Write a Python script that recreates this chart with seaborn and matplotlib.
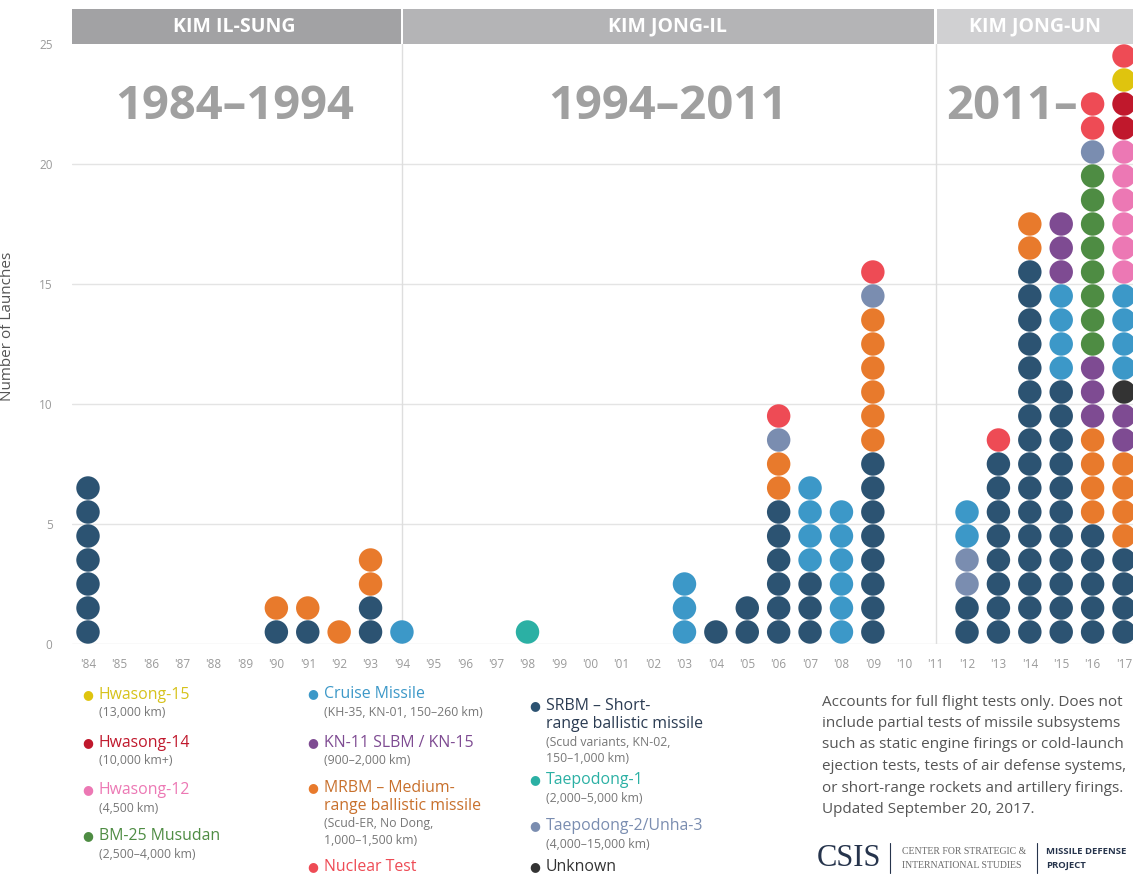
import matplotlib
matplotlib.use("Agg")
import matplotlib.pyplot as plt
import seaborn as sns
import pandas as pd
from matplotlib.lines import Line2D
from matplotlib.patches import Rectangle

# ── Data: launches per year, stacked bottom → top as (type, count) runs ──────
years = list(range(1984, 2018))
tick_labels = ["'" + str(y)[2:] for y in years]

stacks_1984_1994 = {
    1984: [("SRBM", 7)],
    1990: [("SRBM", 1), ("MRBM", 1)],
    1991: [("SRBM", 1), ("MRBM", 1)],
    1992: [("MRBM", 1)],
    1993: [("SRBM", 2), ("MRBM", 2)],
    1994: [("Cruise", 1)],
}
stacks_1994_2011 = {
    1998: [("TD1", 1)],
    2003: [("Cruise", 3)],
    2004: [("SRBM", 1)],
    2005: [("SRBM", 2)],
    2006: [("SRBM", 6), ("MRBM", 2), ("TD2", 1), ("Nuclear", 1)],
    2007: [("SRBM", 3), ("Cruise", 4)],
    2008: [("Cruise", 6)],
    2009: [("SRBM", 8), ("MRBM", 6), ("TD2", 1), ("Nuclear", 1)],
}
stacks_2011_on = {
    2012: [("SRBM", 2), ("TD2", 2), ("Cruise", 2)],
    2013: [("SRBM", 8), ("Nuclear", 1)],
    2014: [("SRBM", 16), ("MRBM", 2)],
    2015: [("SRBM", 11), ("Cruise", 4), ("KN11", 3)],
    2016: [("SRBM", 5), ("MRBM", 4), ("KN11", 3), ("Musudan", 8),
           ("TD2", 1), ("Nuclear", 2)],
    2017: [("SRBM", 4), ("MRBM", 4), ("KN11", 2), ("Unknown", 1),
           ("Cruise", 4), ("HS12", 6), ("HS14", 2), ("HS15", 1),
           ("Nuclear", 1)],
}

type_colors = {
    "SRBM": "#2c5372", "MRBM": "#e87a2c", "Cruise": "#3c98c8",
    "Nuclear": "#ee4b55", "TD1": "#2bb0a4", "TD2": "#7a8db0",
    "KN11": "#7e4b92", "Musudan": "#4e8c43", "HS12": "#ec78b4",
    "HS14": "#c0182c", "HS15": "#dfc40e", "Unknown": "#333333",
}

eras = ["KIM IL-SUNG", "KIM JONG-IL", "KIM JONG-UN"]
era_spans = ["1984\u20131994", "1994\u20132011", "2011\u2013"]

# ── Build one row per dot ─────────────────────────────────────────────────────
rows = []
for stacks in (stacks_1984_1994, stacks_1994_2011, stacks_2011_on):
    for year, runs in stacks.items():
        level = 0
        for kind, n in runs:
            for _ in range(n):
                rows.append({"year": year, "level": level + 0.5, "type": kind})
                level += 1
dots = pd.DataFrame(rows)

# ── Figure ────────────────────────────────────────────────────────────────────
sns.set_style("white")
plt.rcParams["font.family"] = ["Open Sans", "DejaVu Sans"]

W, H = 1133, 875
fig = plt.figure(figsize=(W / 100, H / 100), dpi=100)
ax = fig.add_axes([72 / W, 1 - 644 / H, 1 - 72 / W, 600 / H])

x0, x1 = 1984 - 16 / 31.39, 2017 + 9 / 31.39
ax.set_xlim(x0, x1)
ax.set_ylim(0, 25)

for yv in range(0, 25, 5):
    ax.axhline(yv, color="#e4e4e4", lw=1, zorder=0)
for xv in (1994, 2011):
    ax.plot([xv, xv], [0, 25], color="#dedede", lw=1, zorder=0)

sns.scatterplot(data=dots, x="year", y="level", hue="type",
                palette=type_colors, s=285, linewidth=0, legend=False,
                ax=ax, zorder=3)

sns.despine(ax=ax, left=True, bottom=True)
ax.set_xticks(years)
ax.set_xticklabels(tick_labels)
ax.set_yticks(range(0, 26, 5))
ax.tick_params(axis="both", length=0, labelsize=8.5, labelcolor="#9a9a9a")
ax.tick_params(axis="x", pad=10)
ax.tick_params(axis="y", pad=14)
ax.set_xlabel("")
ax.set_ylabel("Number of Launches", fontsize=11, color="#555555")
ax.yaxis.set_label_coords((15 - 72) / (W - 72), 0.53)

# ── Era header bands and big year spans ───────────────────────────────────────
band_h = 35 / 24
bounds = [(x0, 1993.97), (1994.04, 2010.94), (2011.03, x1 + 1)]
band_colors = ["#a2a2a4", "#b4b4b6", "#d0d0d2"]
name_x = [1988.66, 2002.47, 2014.17]
span_x = [1988.66, 2002.47, 2011.35]
for (a, b), c, name, nx, span, sx in zip(bounds, band_colors, eras,
                                         name_x, era_spans, span_x):
    ax.add_patch(Rectangle((a, 25), b - a, band_h, facecolor=c,
                           edgecolor="none", clip_on=False, zorder=4))
    ax.text(nx, 25 + band_h / 2, name, color="white", fontsize=14,
            fontweight="bold", ha="center", va="center", zorder=5)
    ax.text(sx, 22.4, span, color="#a0a0a0", fontsize=34, fontweight="bold",
            ha="left" if span.endswith("\u2013") else "center",
            va="center", zorder=2)

# ── Custom legend ─────────────────────────────────────────────────────────────
def px(x, y):
    return x / W, 1 - y / H

legend_cols = [
    (88, [
        (695, "HS15", ["Hwasong-15"], ["(13,000 km)"]),
        (743, "HS14", ["Hwasong-14"], ["(10,000 km+)"]),
        (790, "HS12", ["Hwasong-12"], ["(4,500 km)"]),
        (836, "Musudan", ["BM-25 Musudan"], ["(2,500\u20134,000 km)"]),
    ]),
    (313, [
        (694, "Cruise", ["Cruise Missile"], ["(KH-35, KN-01, 150\u2013260 km)"]),
        (743, "KN11", ["KN-11 SLBM / KN-15"], ["(900\u20132,000 km)"]),
        (788, "MRBM", ["MRBM \u2013 Medium-", "range ballistic missile"],
         ["(Scud-ER, No Dong,", "1,000\u20131,500 km)"]),
        (867, "Nuclear", ["Nuclear Test"], []),
    ]),
    (535, [
        (706, "SRBM", ["SRBM \u2013 Short-", "range ballistic missile"],
         ["(Scud variants, KN-02,", "150\u20131,000 km)"]),
        (780, "TD1", ["Taepodong-1"], ["(2,000\u20135,000 km)"]),
        (826, "TD2", ["Taepodong-2/Unha-3"], ["(4,000\u201315,000 km)"]),
        (867, "Unknown", ["Unknown"], []),
    ]),
]
text_colors = dict(type_colors, MRBM="#c8702c", SRBM="#2a3b52",
                   HS15="#d6c21a", Unknown="#333333")

for dot_x, entries in legend_cols:
    for y, kind, names, subs in entries:
        fig.text(*px(dot_x, y), "\u25CF", color=type_colors[kind],
                 fontsize=9, ha="center", va="center")
        yy = y
        for line in names:
            fig.text(*px(dot_x + 11, yy), line, color=text_colors[kind],
                     fontsize=11.4, ha="left", va="center")
            yy += 18
        for line in subs:
            fig.text(*px(dot_x + 11, yy), line, color="#777777",
                     fontsize=8.8, ha="left", va="center")
            yy += 16

note_lines = [
    "Accounts for full flight tests only. Does not",
    "include partial tests of missile subsystems",
    "such as static engine firings or cold-launch",
    "ejection tests, tests of air defense systems,",
    "or short-range rockets and artillery firings.",
    "Updated September 20, 2017.",
]
for i, line in enumerate(note_lines):
    fig.text(*px(822, 702 + i * 21.5), line, color="#555555",
             fontsize=11, ha="left", va="center")

# ── CSIS logo block ───────────────────────────────────────────────────────────
fig.text(*px(817, 858), "CSIS", family="Liberation Serif", fontsize=22,
         color="#26344c", ha="left", va="center")
for lx in (890, 1037):
    fig.add_artist(Line2D([lx / W, lx / W], [1 - 843 / H, 1 - 873 / H],
                          color="#26344c", lw=0.8))
fig.text(*px(902, 852), "CENTER FOR STRATEGIC &", family="Liberation Serif",
         fontsize=7, color="#6a6a6a", ha="left", va="center")
fig.text(*px(902, 865), "INTERNATIONAL STUDIES", family="Liberation Serif",
         fontsize=7, color="#6a6a6a", ha="left", va="center")
fig.text(*px(1046, 852), "MISSILE DEFENSE", fontsize=6.8, fontweight="bold",
         color="#26344c", ha="left", va="center")
fig.text(*px(1046, 865), "PROJECT", fontsize=6.8, fontweight="bold",
         color="#26344c", ha="left", va="center")

fig.savefig("out.png", dpi=100, facecolor="white")
